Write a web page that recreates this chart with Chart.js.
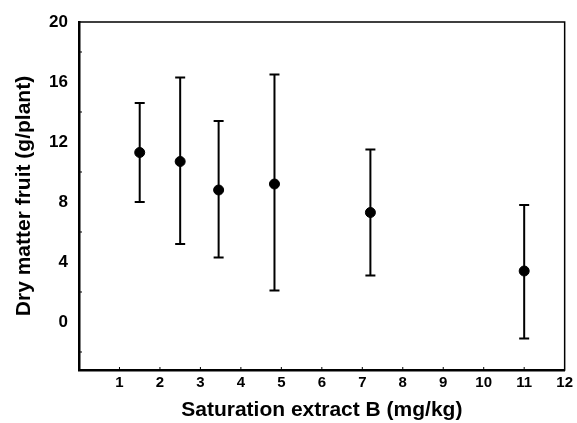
<!DOCTYPE html>
<html>
<head>
    <meta charset="utf-8" />
    <title>Dry matter fruit vs saturation extract B</title>
    <script src="https://cdn.jsdelivr.net/npm/chart.js@4.4.1/dist/chart.umd.min.js"></script>
    <style>
        html, body { margin: 0; padding: 0; background: #fff; }
        #wrap { width: 577px; height: 423px; }
    </style>
</head>
<body>
<div id="wrap"><canvas id="fruit-chart" width="577" height="423"></canvas></div>
<script>
    // values
    var boronLevels = [1.5, 2.5, 3.45, 4.83, 7.2, 11.0];
    var fruitMeans  = [11.3, 10.7, 8.8, 9.2, 7.3, 3.4];
    var barUpper    = [14.6, 16.3, 13.4, 16.5, 11.5, 7.8];
    var barLower    = [8.0, 5.2, 4.3, 2.1, 3.1, -1.1];
    var xTickLabels = [1, 2, 3, 4, 5, 6, 7, 8, 9, 10, 11, 12];
    var yTickLabels = [0, 4, 8, 12, 16, 20];

    var points = [];
    for (var i = 0; i < boronLevels.length; i++) {
        points.push({ x: boronLevels[i], y: fruitMeans[i] });
    }

    // error bars, frame and small minor ticks
    var errorBars = {
        id: 'errorBars',
        beforeDatasetsDraw: function(chart) {
            var c = chart.ctx;
            var xs = chart.scales.x, ys = chart.scales.y;
            var area = chart.chartArea;
            c.save();
            c.strokeStyle = '#000';
            c.lineWidth = 2;
            for (var i = 0; i < boronLevels.length; i++) {
                var px = xs.getPixelForValue(boronLevels[i]);
                var top = ys.getPixelForValue(barUpper[i]);
                var bot = ys.getPixelForValue(barLower[i]);
                c.beginPath();
                c.moveTo(px, top); c.lineTo(px, bot);
                c.moveTo(px - 5, top); c.lineTo(px + 5, top);
                c.moveTo(px - 5, bot); c.lineTo(px + 5, bot);
                c.stroke();
            }
            // box
            c.lineWidth = 1.5;
            c.strokeRect(area.left, area.top, area.right - area.left, area.bottom - area.top);
            // minor ticks
            c.lineWidth = 1;
            c.beginPath();
            for (var v = -2; v < 20; v += 4) {
                var py = ys.getPixelForValue(v);
                c.moveTo(area.left, py); c.lineTo(area.left + 3, py);
            }
            for (var k = 0; k < xTickLabels.length - 1; k++) {
                var tx = xs.getPixelForValue(xTickLabels[k]);
                c.moveTo(tx, area.bottom); c.lineTo(tx, area.bottom - 3);
            }
            c.stroke();
            c.restore();
        }
    };

    var ctx = document.getElementById('fruit-chart');
    new Chart(ctx, {
        type: 'scatter',
        data: {
            datasets: [{
                data: points,
                backgroundColor: '#000',
                borderColor: '#000',
                pointRadius: 5,
                pointHoverRadius: 5
            }]
        },
        options: {
            responsive: false,
            animation: false,
            layout: { padding: { top: 22, right: 12, left: 0, bottom: 0 } },
            plugins: { legend: { display: false }, tooltip: { enabled: false } },
            scales: {
                x: {
                    type: 'linear',
                    min: 0,
                    max: 12,
                    afterBuildTicks: function(scale) {
                        scale.ticks = xTickLabels.map(function(v) { return { value: v }; });
                    },
                    afterFit: function(scale) { scale.height = 53; },
                    grid: { display: false, drawTicks: false },
                    border: { display: true, color: '#000', width: 2.5 },
                    ticks: {
                        color: '#000',
                        padding: 4,
                        maxRotation: 0,
                        autoSkip: false,
                        font: { family: 'Liberation Sans', size: 15, weight: 'bold' }
                    },
                    title: {
                        display: true,
                        text: 'Saturation extract B (mg/kg)',
                        color: '#000',
                        padding: { top: 0, bottom: 0 },
                        font: { family: 'Liberation Sans', size: 21, weight: 'bold' }
                    }
                },
                y: {
                    type: 'linear',
                    min: -3.2,
                    max: 20,
                    afterBuildTicks: function(scale) {
                        scale.ticks = yTickLabels.map(function(v) { return { value: v }; });
                    },
                    afterFit: function(scale) { scale.width = 79; },
                    grid: { display: false, drawTicks: false },
                    border: { display: true, color: '#000', width: 2.5 },
                    ticks: {
                        color: '#000',
                        padding: 11,
                        autoSkip: false,
                        font: { family: 'Liberation Sans', size: 17, weight: 'bold' }
                    },
                    title: {
                        display: true,
                        text: 'Dry matter fruit (g/plant)',
                        color: '#000',
                        padding: { top: 12, bottom: 0 },
                        font: { family: 'Liberation Sans', size: 21, weight: 'bold' }
                    }
                }
            }
        },
        plugins: [errorBars]
    });
</script>
</body>
</html>
